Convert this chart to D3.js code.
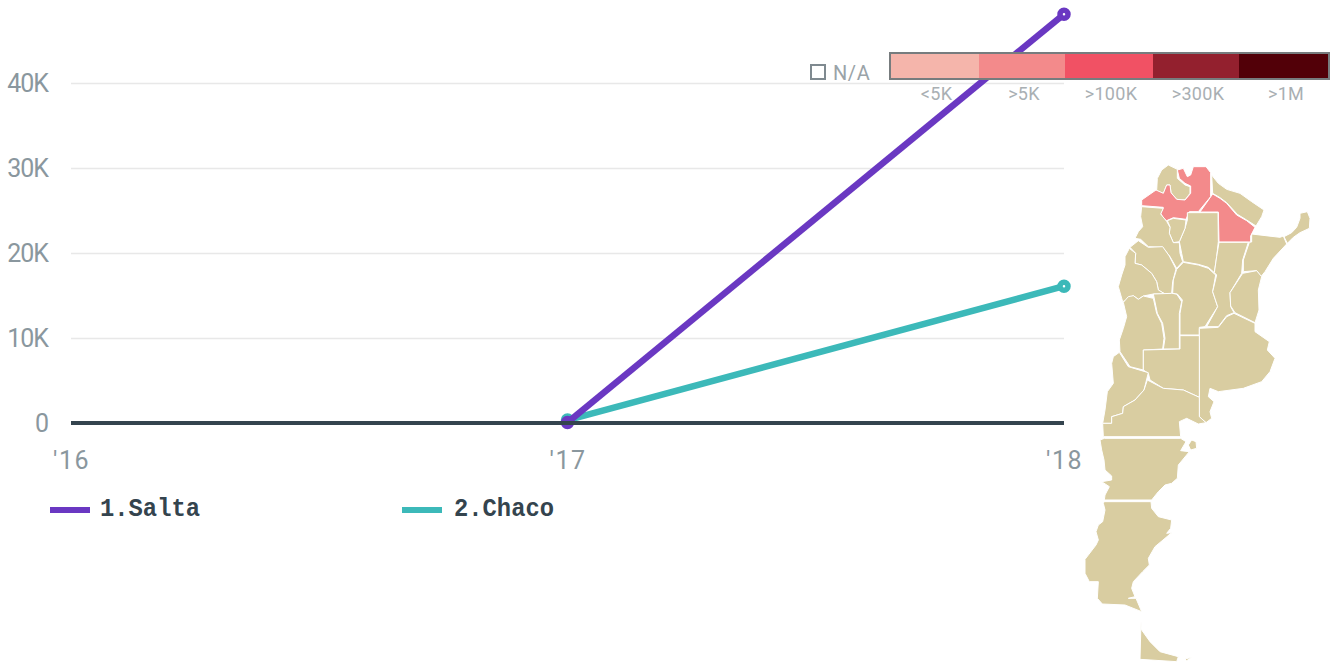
<!DOCTYPE html>
<html>
<head>
<meta charset="utf-8">
<script src="https://cdnjs.cloudflare.com/ajax/libs/d3/7.8.5/d3.min.js"></script>
<style>
    html, body { margin: 0; padding: 0; background: #fff; overflow: hidden; }
    text { font-family: Roboto, sans-serif; }
    .tick text { font-size: 25px; letter-spacing: -1px; fill: #8a979e; }
    .x-axis .tick text { letter-spacing: 1.5px; }
    .y-grid line { stroke: #e8e8e8; stroke-width: 1.5; }
    .domain { display: none; }
    text.series-name { font-family: "Liberation Mono", monospace; }
</style>
</head>
<body>
<div id="chart"></div>
<script>
const years = [2016, 2017, 2018];
const yTicks = [0, 10000, 20000, 30000, 40000];
const saltaValues = [null, 60, 48100];
const chacoValues = [null, 350, 16100];
const seriesNames = ["1.Salta", "2.Chaco"];
const seriesColors = ["#6a38c2", "#3cb9b9"];

const legendLabels = ["<5K", ">5K", ">100K", ">300K", ">1M"];
const legendColors = ["#f5b5ab", "#f38a8b", "#f15164", "#93202e", "#520008"];
const legendEdges = [890, 979, 1065, 1153, 1239, 1329];

// province outlines, in map units (1/3 px)
const provinces = {
    jujuy: [[260,122],[262,85],[275,60],[295,45],[322,58],[322,85],[345,105],[360,110],[360,130],[345,150],[320,148],[303,128],[300,105],[290,105],[280,130]],
    salta: [[215,150],[258,120],[280,130],[290,105],[300,105],[303,128],[320,148],[345,150],[362,130],[362,108],[345,100],[328,85],[322,60],[340,55],[352,80],[362,75],[370,50],[408,50],[422,68],[422,140],[385,185],[358,185],[348,208],[310,203],[290,212],[280,205],[272,190],[280,172],[215,167]],
    chaco: [[428,132],[450,145],[470,160],[500,195],[530,212],[555,232],[542,258],[542,276],[447,276],[445,186],[390,186]],
    formosa: [[425,75],[445,100],[470,118],[510,130],[545,155],[582,180],[575,200],[558,228],[530,210],[502,193],[470,158],[450,143],[428,130]],
    santiago: [[352,188],[444,188],[445,275],[440,320],[433,368],[415,352],[385,343],[340,335],[335,310],[328,275],[345,235],[352,210]],
    tucuman: [[292,212],[310,205],[348,210],[345,235],[328,275],[310,278],[298,250],[300,230]],
    catamarca: [[215,170],[280,175],[272,192],[290,214],[300,232],[298,250],[310,278],[328,278],[330,310],[338,335],[320,355],[300,320],[278,292],[235,290],[212,268],[195,265],[205,245],[218,230],[212,200]],
    larioja: [[180,292],[205,272],[235,292],[278,290],[298,318],[318,357],[308,395],[305,430],[285,432],[265,420],[260,395],[245,370],[215,345],[195,340],[197,310]],
    sanjuan: [[178,295],[197,310],[195,340],[215,345],[245,370],[260,395],[265,420],[285,432],[250,432],[220,438],[205,448],[190,437],[170,450],[158,455],[145,410],[155,375],[165,345],[165,320]],
    mendoza: [[160,457],[175,440],[190,437],[205,448],[220,438],[250,445],[260,490],[275,520],[282,565],[278,597],[220,600],[220,660],[180,650],[150,605],[148,570],[160,535],[170,500]],
    sanluis: [[250,432],[305,430],[320,432],[335,455],[328,490],[328,597],[280,597],[285,565],[278,520],[262,490]],
    cordoba: [[308,430],[310,390],[320,358],[340,337],[385,345],[415,355],[437,375],[428,425],[443,470],[405,530],[388,532],[388,555],[330,555],[330,490],[337,450],[322,432]],
    santafe: [[447,277],[535,277],[518,330],[515,370],[480,428],[482,470],[492,488],[470,497],[445,530],[410,530],[443,470],[428,425],[440,375],[433,368],[440,320]],
    corrientes: [[545,252],[630,262],[640,258],[650,282],[610,325],[585,365],[573,380],[560,362],[520,365],[520,330],[538,277],[545,276]],
    misiones: [[642,260],[665,248],[680,232],[690,205],[690,190],[712,185],[720,205],[718,235],[690,248],[670,262],[652,280]],
    entrerios: [[518,370],[560,362],[575,380],[565,420],[567,480],[555,518],[495,488],[482,468],[480,428]],
    buenosaires: [[388,535],[445,532],[470,500],[492,490],[555,520],[555,545],[598,575],[592,600],[615,625],[600,665],[575,695],[520,715],[445,725],[420,715],[415,740],[432,755],[420,785],[425,805],[408,818],[388,800]],
    lapampa: [[220,600],[330,597],[330,557],[388,557],[388,742],[340,720],[280,715],[240,690],[235,670],[220,660]],
    neuquen: [[148,607],[175,650],[235,668],[222,720],[195,750],[160,770],[158,790],[125,800],[125,820],[98,820],[105,780],[112,725],[130,700],[125,640],[130,620]],
    rionegro: [[222,720],[232,690],[280,715],[340,720],[388,742],[388,800],[408,818],[385,822],[350,805],[328,815],[332,860],[100,860],[98,820],[125,820],[125,800],[158,790],[160,770],[195,750]],
    chubut: [[90,870],[103,865],[332,865],[348,875],[332,902],[358,905],[325,945],[322,985],[305,1000],[285,1005],[265,1025],[245,1050],[103,1050],[105,1035],[118,1010],[95,995],[125,990],[125,978],[105,960],[102,930],[95,900]],
    valdes: [[365,870],[378,875],[380,895],[362,900],[355,885]],
    santacruz: [[102,1055],[243,1055],[245,1075],[265,1100],[305,1110],[302,1135],[290,1150],[305,1148],[285,1165],[255,1190],[235,1225],[238,1245],[218,1265],[190,1295],[185,1315],[195,1340],[175,1345],[198,1345],[215,1385],[165,1365],[97,1362],[82,1345],[85,1295],[58,1295],[45,1270],[45,1228],[78,1185],[85,1170],[78,1145],[85,1125],[98,1115],[105,1080],[100,1060]],
    tierradelfuego: [[213,1415],[215,1440],[240,1475],[270,1505],[325,1520],[320,1535],[210,1528]],
    fuegoisla: [[345,1527],[365,1522],[350,1532]]
};
const highlighted = ["salta", "chaco"];
const mapBase = "#d9cda1";

const width = 1336, height = 662;
const svg = d3.select("#chart").append("svg")
    .attr("width", width)
    .attr("height", height)
    .style("display", "block");

const x = d3.scaleLinear().domain([2016, 2018]).range([71, 1064]);
const y = d3.scaleLinear().domain([0, 40000]).range([423, 83]);

// grid + y axis
svg.append("g")
    .attr("class", "y-grid")
    .attr("transform", "translate(71,0)")
    .call(d3.axisLeft(y)
        .tickValues(yTicks)
        .tickSize(-993)
        .tickPadding(23)
        .tickFormat(d => d === 0 ? "0" : (d / 1000) + "K"));

// x axis
svg.append("g")
    .attr("class", "x-axis")
    .attr("transform", "translate(0,451)")
    .call(d3.axisBottom(x)
        .tickValues(years)
        .tickSize(0)
        .tickPadding(0)
        .tickFormat(d => "'" + String(d).slice(2)))
    .selectAll("text")
    .attr("dy", "0.72em");

const line = d3.line()
    .defined(d => d.v !== null)
    .x(d => x(d.year))
    .y(d => y(d.v));

// Chaco first so Salta sits on top, same as the reference
[chacoValues, saltaValues].forEach(function (values, i) {
    const color = seriesColors[1 - i];
    const pts = values.map((v, j) => ({year: years[j], v: v}));
    svg.append("path")
        .datum(pts)
        .attr("d", line)
        .attr("fill", "none")
        .attr("stroke", color)
        .attr("stroke-width", 6.5);
    svg.selectAll(null)
        .data(pts.filter(d => d.v !== null))
        .enter().append("circle")
        .attr("cx", d => x(d.year))
        .attr("cy", d => y(d.v))
        .attr("r", 4)
        .attr("fill", "#fff")
        .attr("stroke", color)
        .attr("stroke-width", 5.5);
});

// baseline goes over the points
svg.append("line")
    .attr("x1", x(2016))
    .attr("x2", x(2018))
    .attr("y1", y(0))
    .attr("y2", y(0))
    .attr("stroke", "#34444e")
    .attr("stroke-width", 4);

// series legend
const legendX = [50, 402];
seriesNames.forEach(function (name, i) {
    svg.append("line")
        .attr("x1", legendX[i])
        .attr("x2", legendX[i] + 40)
        .attr("y1", 510)
        .attr("y2", 510)
        .attr("stroke", seriesColors[i])
        .attr("stroke-width", 6);
    svg.append("text")
        .attr("class", "series-name")
        .attr("x", legendX[i] + (i === 0 ? 50 : 52))
        .attr("y", 516)
        .attr("fill", "#34444e")
        .attr("font-size", 26)
        .attr("font-weight", "bold")
        .attr("textLength", 100)
        .attr("lengthAdjust", "spacingAndGlyphs")
        .text(name);
});

// colour legend
const colorLegend = svg.append("g");
legendColors.forEach(function (c, i) {
    colorLegend.append("rect")
        .attr("x", legendEdges[i])
        .attr("y", 53)
        .attr("width", legendEdges[i + 1] - legendEdges[i])
        .attr("height", 26)
        .attr("fill", c);
    colorLegend.append("text")
        .attr("x", (legendEdges[i] + legendEdges[i + 1]) / 2 + 2)
        .attr("y", 100)
        .attr("text-anchor", "middle")
        .attr("fill", "#a9afb3")
        .attr("font-size", 18)
        .attr("letter-spacing", "0.3px")
        .text(legendLabels[i]);
});
colorLegend.append("rect")
    .attr("x", legendEdges[0])
    .attr("y", 53)
    .attr("width", legendEdges[5] - legendEdges[0])
    .attr("height", 26)
    .attr("fill", "none")
    .attr("stroke", "#777c7e")
    .attr("stroke-width", 2);
colorLegend.append("rect")
    .attr("x", 811)
    .attr("y", 65)
    .attr("width", 14)
    .attr("height", 14)
    .attr("fill", "#fff")
    .attr("stroke", "#7f8a90")
    .attr("stroke-width", 2);
colorLegend.append("text")
    .attr("x", 833)
    .attr("y", 80)
    .attr("fill", "#9aa3a8")
    .attr("font-size", 20)
    .attr("letter-spacing", "0.6px")
    .text("N/A");

// map
const mapX = d3.scaleLinear().domain([0, 780]).range([1070, 1330]);
const mapY = d3.scaleLinear().domain([0, 1536]).range([150, 662]);
const outline = d3.line().x(d => mapX(d[0])).y(d => mapY(d[1])).curve(d3.curveLinearClosed);

svg.append("g")
    .selectAll("path")
    .data(Object.keys(provinces))
    .enter().append("path")
    .attr("d", d => outline(provinces[d]))
    .attr("fill", d => highlighted.includes(d) ? legendColors[1] : mapBase)
    .attr("stroke", "#fff")
    .attr("stroke-width", 1)
    .attr("stroke-linejoin", "round");
</script>
</body>
</html>
